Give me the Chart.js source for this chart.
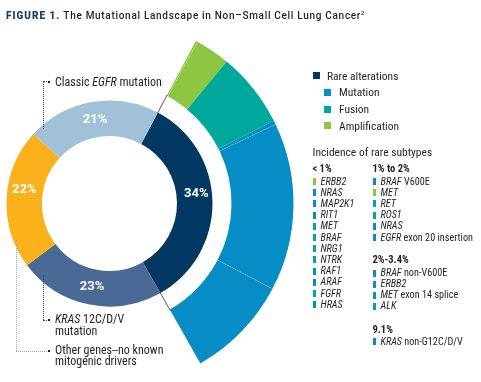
<!DOCTYPE html>
<html><head><meta charset="utf-8">
<script src="https://cdn.jsdelivr.net/npm/chart.js@4/dist/chart.umd.min.js"></script>
<style>
html,body{margin:0;padding:0;background:#fff;}
#wrap{position:relative;width:481px;height:382px;overflow:hidden;font-family:"Liberation Sans Narrow","Roboto Condensed",Roboto,sans-serif;color:#231f20;}
#c{position:absolute;left:0;top:0;}
.t{position:absolute;white-space:nowrap;line-height:12px;}
.ann{font-size:12px;}
.leg{font-size:11.5px;}
.sub{font-size:10.2px;}
.hd{font-weight:bold;font-size:10.5px;}
.sq{position:absolute;width:7px;height:7px;}
.bar{position:absolute;width:3px;height:7px;}
.dv{position:absolute;border-left:1px dotted #444;}
.dh{position:absolute;border-top:1px dotted #444;}
.dot{position:absolute;width:2px;height:2px;background:#231f20;}
#title{position:absolute;left:6px;top:9px;font-family:Roboto,sans-serif;font-size:10px;white-space:nowrap;letter-spacing:0.7px;color:#231f20;font-weight:500;}
#title b{color:#17406d;font-weight:900;letter-spacing:1px;}
#title sup{font-size:6px;}
</style></head><body>
<div id="wrap">
<canvas id="c" width="481" height="382"></canvas>
<div id="title"><b>FIGURE 1.</b> The Mutational Landscape in Non–Small Cell Lung Cancer<sup>2</sup></div>
<div id="anns"></div>
<div id="legend"></div>
</div>
<script>
// ---- data ----
const mainCategories = ['Rare alterations', 'KRAS 12C/D/V mutation', 'Other genes--no known mitogenic drivers', 'Classic EGFR mutation'];
const mainValues = [34, 23, 22, 21];
const mainColors = ['#033863', '#4a6994', '#fbb11c', '#a1c1d6'];

const rareTypes = ['Amplification', 'Amplification', 'Fusion', 'Mutation', 'Mutation', 'Mutation'];
const rareValues = [0.15, 3.05, 6.6, 0.35, 14.75, 9.1];
const rareRemainder = [66];

const typeNames = ['Mutation', 'Fusion', 'Amplification'];
const typeColors = ['#078dc5', '#00a89c', '#8dc640'];

const groupHeaders = ['< 1%', '1% to 2%', '2%-3.4%', '9.1%'];
const lessThan1Genes = ['ERBB2', 'NRAS', 'MAP2K1', 'RIT1', 'MET', 'BRAF', 'NRG1', 'NTRK', 'RAF1', 'ARAF', 'FGFR', 'HRAS'];
const lessThan1Types = ['Amplification', 'Mutation', 'Mutation', 'Mutation', 'Fusion', 'Fusion', 'Fusion', 'Fusion', 'Mutation', 'Mutation', 'Fusion', 'Mutation'];
const oneTo2Genes = [['BRAF', ' V600E'], ['MET', ''], ['RET', ''], ['ROS1', ''], ['NRAS', ''], ['EGFR', ' exon 20 insertion']];
const oneTo2Types = ['Mutation', 'Amplification', 'Fusion', 'Fusion', 'Mutation', 'Mutation'];
const twoTo34Genes = [['BRAF', ' non-V600E'], ['ERBB2', ''], ['MET', ' exon 14 splice'], ['ALK', '']];
const twoTo34Types = ['Mutation', 'Mutation', 'Mutation', 'Fusion'];
const ninePctGenes = [['KRAS', ' non-G12C/D/V']];
const ninePctTypes = ['Mutation'];

// ---- chart ----
const colorOf = t => typeColors[typeNames.indexOf(t)];
const overlay = {
  id: 'overlay',
  afterDatasetsDraw(chart) {
    const ctx = chart.ctx;
    const outer = chart.getDatasetMeta(0).data;
    const inner = chart.getDatasetMeta(2).data;
    const a = inner[0], o = outer[0];
    ctx.save();
    ctx.strokeStyle = '#333'; ctx.lineWidth = 0.8;
    [a.startAngle, a.endAngle].forEach(ang => {
      ctx.beginPath();
      ctx.moveTo(a.x + Math.cos(ang) * (a.outerRadius - 1), a.y + Math.sin(ang) * (a.outerRadius - 1));
      ctx.lineTo(a.x + Math.cos(ang) * (o.innerRadius + 1), a.y + Math.sin(ang) * (o.innerRadius + 1));
      ctx.stroke();
    });
    ctx.setLineDash([1.2, 1.6]);
    ctx.strokeStyle = 'rgba(255,255,255,0.4)';
    rareTypes.forEach((t, i) => {
      if (i > 0 && rareTypes[i - 1] === t) {
        const e = outer[i];
        ctx.beginPath();
        ctx.moveTo(e.x + Math.cos(e.startAngle) * e.innerRadius, e.y + Math.sin(e.startAngle) * e.innerRadius);
        ctx.lineTo(e.x + Math.cos(e.startAngle) * e.outerRadius, e.y + Math.sin(e.startAngle) * e.outerRadius);
        ctx.stroke();
      }
    });
    ctx.setLineDash([]);
    ctx.fillStyle = '#fff';
    ctx.font = 'bold 13px Roboto, sans-serif';
    ctx.textAlign = 'center'; ctx.textBaseline = 'middle';
    const dy = [-9, 0, -10, 0];
    inner.forEach((e, i) => {
      const m = (e.startAngle + e.endAngle) / 2, r = (e.innerRadius + e.outerRadius) / 2;
      ctx.fillText(mainValues[i] + '%', e.x + Math.cos(m) * r + (i === 0 ? 1.5 : 0), e.y + Math.sin(m) * r + dy[i]);
    });
    ctx.restore();
  }
};
new Chart(document.getElementById('c'), {
  type: 'doughnut',
  data: {
    labels: mainCategories,
    datasets: [
      { data: rareValues.concat(rareRemainder), backgroundColor: rareTypes.map(colorOf).concat(['rgba(0,0,0,0)']), weight: 62 },
      { data: [100], backgroundColor: ['rgba(0,0,0,0)'], weight: 19 },
      { data: mainValues, backgroundColor: mainColors, weight: 35.5 }
    ]
  },
  options: {
    responsive: false, animation: false, events: [],
    rotation: 28, radius: 184, cutout: '36.68%',
    borderWidth: 0,
    layout: { padding: { left: 0, right: 262, top: 25, bottom: 0 } },
    plugins: { legend: { display: false }, tooltip: { enabled: false } }
  },
  plugins: [overlay]
});

// ---- annotations & legend (HTML text) ----
const anns = document.getElementById('anns');
function add(parent, html) { parent.insertAdjacentHTML('beforeend', html); }
// leader lines
add(anns, '<div class="dv" style="left:43px;top:82px;height:47px"></div><div class="dh" style="left:43px;top:81px;width:4px"></div><div class="dot" style="left:48px;top:81px"></div>');
add(anns, '<div class="t ann" style="left:55px;top:75.5px">Classic <i>EGFR</i> mutation</div>');
add(anns, '<div class="dv" style="left:43px;top:275px;height:45px"></div><div class="dh" style="left:43px;top:320px;width:4px"></div><div class="dot" style="left:48px;top:319px"></div>');
add(anns, '<div class="t ann" style="left:55px;top:314px;line-height:11.7px"><i>KRAS</i> 12C/D/V<br>mutation</div>');
add(anns, '<div class="dv" style="left:16px;top:240px;height:111px;border-color:#aaa"></div><div class="dh" style="left:16px;top:351px;width:31px;border-color:#aaa"></div><div class="dot" style="left:48px;top:350px"></div>');
add(anns, '<div class="t ann" style="left:55px;top:345px;line-height:11px">Other genes--no known<br>mitogenic drivers</div>');

const leg = document.getElementById('legend');
add(leg, `<div class="sq" style="left:313px;top:72px;background:${mainColors[0]}"></div><div class="t leg" style="left:327px;top:69.5px">${mainCategories[0]}</div>`);
typeNames.forEach((n, i) => {
  const y = 92.3 + i * 16.7;
  add(leg, `<div class="sq" style="left:324px;top:${y - 3.5}px;background:${typeColors[i]}"></div><div class="t leg" style="left:339px;top:${y - 6}px">${n}</div>`);
});
add(leg, `<div class="t leg" style="left:312.5px;top:145.5px">Incidence of rare subtypes</div>`);
function header(x, y, txt) { add(leg, `<div class="t hd" style="left:${x}px;top:${y - 6}px">${txt}</div>`); }
function item(x, y, g, rest, type) {
  add(leg, `<div class="bar" style="left:${x}px;top:${y - 3.5}px;background:${colorOf(type)}"></div><div class="t sub" style="left:${x + 8}px;top:${y - 6}px"><i>${g}</i>${rest}</div>`);
}
header(312.5, 168.7, groupHeaders[0]);
lessThan1Genes.forEach((g, i) => item(312.5, 181.5 + i * 11.2, g, '', lessThan1Types[i]));
header(372.5, 168.7, groupHeaders[1]);
oneTo2Genes.forEach((g, i) => item(372.5, 181.5 + i * 11.2, g[0], g[1], oneTo2Types[i]));
header(372.5, 260, groupHeaders[2]);
twoTo34Genes.forEach((g, i) => item(372.5, 273 + i * 11, g[0], g[1], twoTo34Types[i]));
header(372.5, 330, groupHeaders[3]);
ninePctGenes.forEach((g, i) => item(372.5, 341.7, g[0], g[1], ninePctTypes[i]));
</script>
</body></html>
